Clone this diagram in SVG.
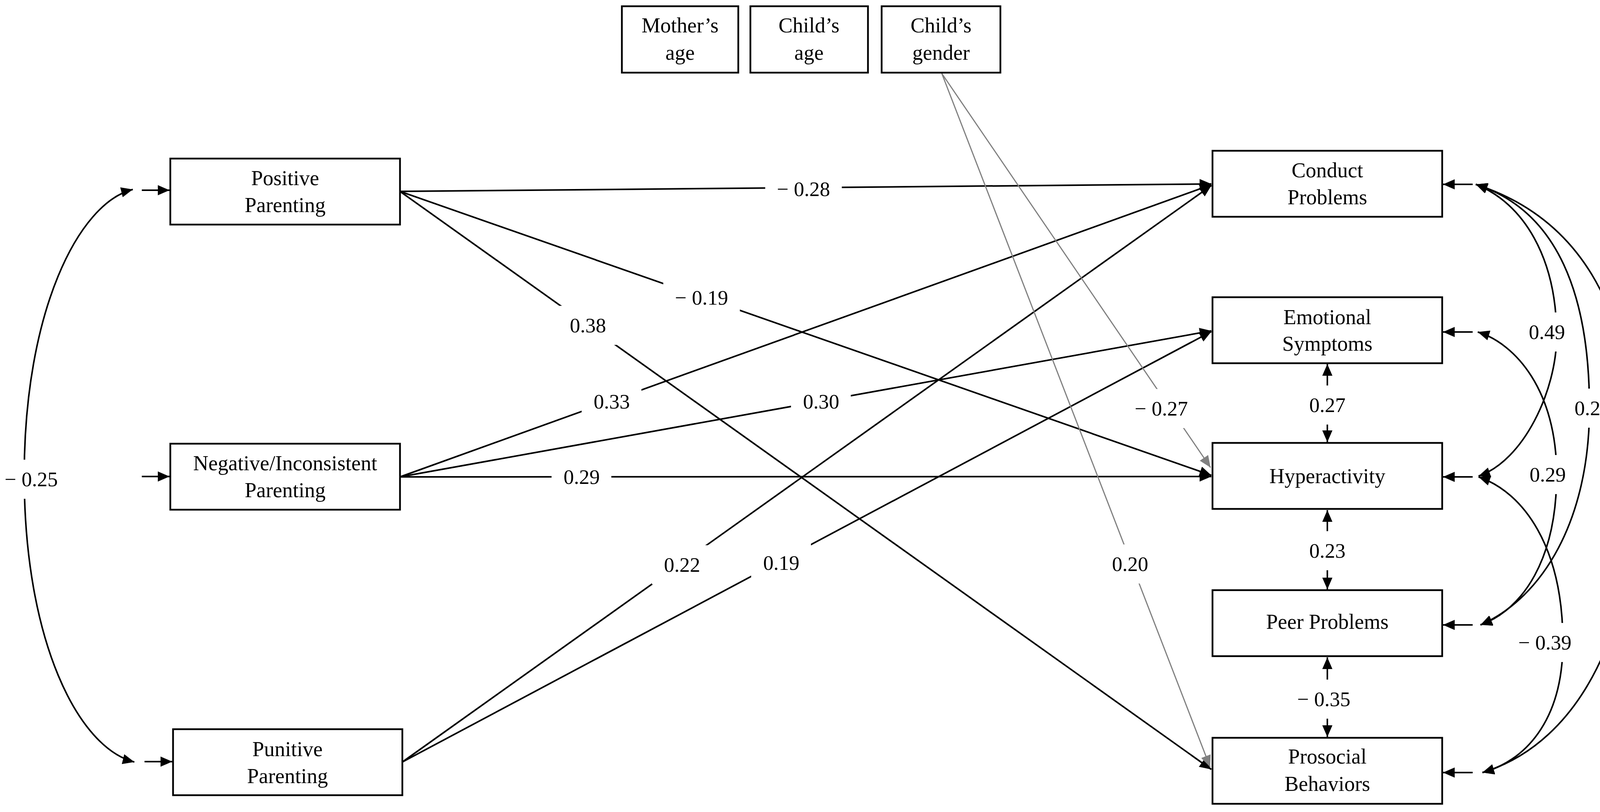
<svg xmlns="http://www.w3.org/2000/svg" width="4251" height="2079" viewBox="0 0 4251 2079">
<style>
.box{fill:#fff;stroke:#000;stroke-width:4.5}
.t{font-family:"Liberation Serif","Times New Roman",serif;font-size:54px;text-anchor:middle;fill:#000}
.n{font-family:"Liberation Serif","Times New Roman",serif;font-size:53px;text-anchor:middle;fill:#000}
.c{fill:none;stroke:#000;stroke-width:4}
.g{fill:none;stroke:#808080;stroke-width:3}
.bg{fill:#fff}
</style>
<defs>
<marker id="ah" markerUnits="userSpaceOnUse" viewBox="0 0 30 26" markerWidth="30" markerHeight="26" refX="30" refY="13" orient="auto-start-reverse"><path d="M0,0 L30,13 L0,26 z" fill="#000"/></marker>
<marker id="ahg" markerUnits="userSpaceOnUse" viewBox="0 0 30 26" markerWidth="30" markerHeight="26" refX="30" refY="13" orient="auto"><path d="M0,0 L30,13 L0,26 z" fill="#808080"/></marker>
</defs>
<rect width="4251" height="2079" fill="#fff"/>
<g id="connectors">
<path class="c" d="M1024,490 L3101,471" marker-end="url(#ah)"/>
<path class="c" d="M1024,490 L3101,1217" marker-end="url(#ah)"/>
<path class="c" d="M1024,490 L3101,1970" marker-end="url(#ah)"/>
<path class="c" d="M1024,1221 L3101,473" marker-end="url(#ah)"/>
<path class="c" d="M1024,1221 L3101,847" marker-end="url(#ah)"/>
<path class="c" d="M1024,1221 L3101,1220" marker-end="url(#ah)"/>
<path class="c" d="M1030,1951 L3101,475" marker-end="url(#ah)"/>
<path class="c" d="M1030,1951 L3101,849" marker-end="url(#ah)"/>
<path class="g" d="M2411,188 L3099,1197" marker-end="url(#ahg)"/>
<path class="g" d="M2411,188 L3098,1964" marker-end="url(#ahg)"/>
<path class="c" d="M363,487 L434,487" marker-end="url(#ah)"/>
<path class="c" d="M363,1220 L434,1220" marker-end="url(#ah)"/>
<path class="c" d="M370,1950 L441,1950" marker-end="url(#ah)"/>
<path class="c" d="M340,485 C200,520 62,800 62,1217 C62,1640 200,1915 344,1951" marker-start="url(#ah)" marker-end="url(#ah)"/>
<path class="c" d="M3770,472 L3694,472" marker-end="url(#ah)"/>
<path class="c" d="M3770,850 L3694,850" marker-end="url(#ah)"/>
<path class="c" d="M3770,1221 L3694,1221" marker-end="url(#ah)"/>
<path class="c" d="M3770,1600 L3694,1600" marker-end="url(#ah)"/>
<path class="c" d="M3770,1978 L3694,1978" marker-end="url(#ah)"/>
<path class="c" d="M3398,932 L3398,1132" marker-start="url(#ah)" marker-end="url(#ah)"/>
<path class="c" d="M3398,1306 L3398,1509" marker-start="url(#ah)" marker-end="url(#ah)"/>
<path class="c" d="M3398,1683 L3398,1887" marker-start="url(#ah)" marker-end="url(#ah)"/>
<path class="c" d="M3778,472 C3900,520 3985,660 3985,860 C3985,1000 3900,1180 3785,1219" marker-start="url(#ah)" marker-end="url(#ah)"/>
<path class="c" d="M3778,472 C3990,540 4069,760 4069,1045 C4069,1330 3950,1530 3790,1600" marker-start="url(#ah)" marker-end="url(#ah)"/>
<path class="c" d="M3778,472 C4050,560 4189,800 4189,1215 C4189,1600 4050,1900 3795,1978" marker-start="url(#ah)" marker-end="url(#ah)"/>
<path class="c" d="M3783,850 C3880,880 3985,1000 3985,1215 C3985,1430 3900,1560 3790,1600" marker-start="url(#ah)" marker-end="url(#ah)"/>
<path class="c" d="M3785,1221 C3900,1260 4001,1400 4001,1645 C4001,1850 3900,1950 3795,1978" marker-start="url(#ah)" marker-end="url(#ah)"/>
</g>
<g id="labels">
<rect class="bg" x="1959" y="434" width="196" height="100"/><text class="n" x="2057" y="502">− 0.28</text>
<rect class="bg" x="1698" y="712" width="196" height="100"/><text class="n" x="1796" y="780">− 0.19</text>
<rect class="bg" x="1428" y="783" width="153" height="100"/><text class="n" x="1505" y="851">0.38</text>
<rect class="bg" x="1489" y="978" width="153" height="100"/><text class="n" x="1566" y="1046">0.33</text>
<rect class="bg" x="2025" y="978" width="153" height="100"/><text class="n" x="2102" y="1046">0.30</text>
<rect class="bg" x="1412" y="1171" width="153" height="100"/><text class="n" x="1489" y="1239">0.29</text>
<rect class="bg" x="1669" y="1396" width="153" height="100"/><text class="n" x="1746" y="1464">0.22</text>
<rect class="bg" x="1923" y="1391" width="153" height="100"/><text class="n" x="2000" y="1459">0.19</text>
<rect class="bg" x="2875" y="996" width="196" height="100"/><text class="n" x="2973" y="1064">− 0.27</text>
<rect class="bg" x="2816" y="1394" width="153" height="100"/><text class="n" x="2893" y="1462">0.20</text>
<rect class="bg" x="3321" y="987" width="153" height="100"/><text class="n" x="3398" y="1055">0.27</text>
<rect class="bg" x="3321" y="1360" width="153" height="100"/><text class="n" x="3398" y="1428">0.23</text>
<rect class="bg" x="3291" y="1740" width="196" height="100"/><text class="n" x="3389" y="1808">− 0.35</text>
<rect class="bg" x="0" y="1177" width="170" height="100"/><text class="n" x="80" y="1245">− 0.25</text>
<rect class="bg" x="3883" y="800" width="153" height="100"/><text class="n" x="3960" y="868">0.49</text>
<rect class="bg" x="4000" y="995" width="153" height="100"/><text class="n" x="4077" y="1063">0.25</text>
<rect class="bg" x="3885" y="1165" width="153" height="100"/><text class="n" x="3962" y="1233">0.29</text>
<rect class="bg" x="4075" y="1165" width="176" height="100"/><text class="n" x="4173" y="1233">− 0.51</text>
<rect class="bg" x="3857" y="1595" width="196" height="100"/><text class="n" x="3955" y="1663">− 0.39</text>
</g>
<g id="node-mothers-age"><rect class="box" x="1592" y="16" width="298" height="170"/><text class="t" x="1741" y="83">Mother’s</text><text class="t" x="1741" y="153">age</text></g>
<g id="node-childs-age"><rect class="box" x="1921" y="16" width="301" height="170"/><text class="t" x="2071" y="83">Child’s</text><text class="t" x="2071" y="153">age</text></g>
<g id="node-childs-gender"><rect class="box" x="2257" y="16" width="304" height="170"/><text class="t" x="2409" y="83">Child’s</text><text class="t" x="2409" y="153">gender</text></g>
<g id="node-positive"><rect class="box" x="436" y="406" width="588" height="169"/><text class="t" x="730" y="474">Positive</text><text class="t" x="730" y="543">Parenting</text></g>
<g id="node-negative"><rect class="box" x="436" y="1136" width="588" height="169"/><text class="t" x="730" y="1204">Negative/Inconsistent</text><text class="t" x="730" y="1273">Parenting</text></g>
<g id="node-punitive"><rect class="box" x="443" y="1867" width="587" height="169"/><text class="t" x="736" y="1936">Punitive</text><text class="t" x="736" y="2005">Parenting</text></g>
<g id="node-conduct"><rect class="box" x="3104" y="386" width="588" height="169"/><text class="t" x="3398" y="454">Conduct</text><text class="t" x="3398" y="523">Problems</text></g>
<g id="node-emotional"><rect class="box" x="3104" y="761" width="588" height="169"/><text class="t" x="3398" y="830">Emotional</text><text class="t" x="3398" y="898">Symptoms</text></g>
<g id="node-hyperactivity"><rect class="box" x="3104" y="1134" width="588" height="169"/><text class="t" x="3398" y="1237">Hyperactivity</text></g>
<g id="node-peer"><rect class="box" x="3104" y="1511" width="588" height="169"/><text class="t" x="3398" y="1610">Peer Problems</text></g>
<g id="node-prosocial"><rect class="box" x="3104" y="1889" width="588" height="169"/><text class="t" x="3398" y="1955">Prosocial</text><text class="t" x="3398" y="2025">Behaviors</text></g>
</svg>
